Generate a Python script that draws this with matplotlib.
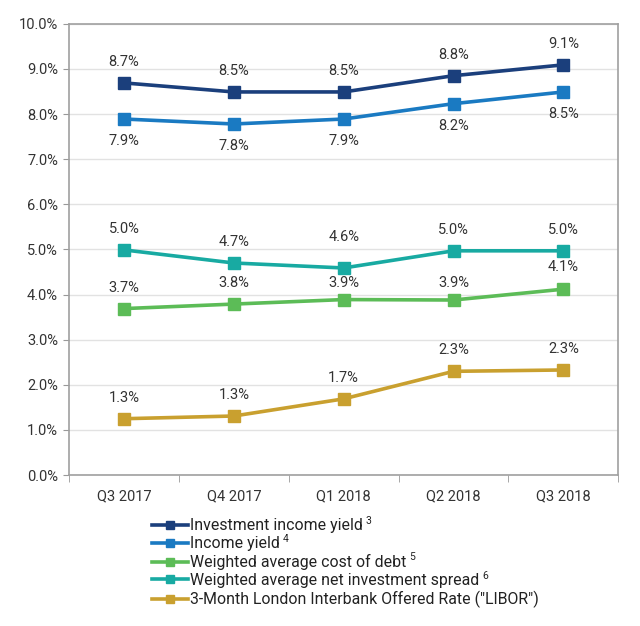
import matplotlib
matplotlib.use("Agg")
import matplotlib.pyplot as plt
from matplotlib.ticker import FuncFormatter, FixedLocator

plt.rcParams['font.family'] = ['Roboto', 'DejaVu Sans']

categories = ["Q3 2017", "Q4 2017", "Q1 2018", "Q2 2018", "Q3 2018"]
investment_income_yield = [8.69, 8.49, 8.49, 8.85, 9.09]
income_yield = [7.89, 7.78, 7.89, 8.23, 8.49]
net_investment_spread = [4.99, 4.70, 4.59, 4.97, 4.97]
cost_of_debt = [3.69, 3.79, 3.89, 3.88, 4.12]
libor = [1.25, 1.31, 1.69, 2.30, 2.33]

label_iiy = ["8.7%", "8.5%", "8.5%", "8.8%", "9.1%"]
label_iy = ["7.9%", "7.8%", "7.9%", "8.2%", "8.5%"]
label_spread = ["5.0%", "4.7%", "4.6%", "5.0%", "5.0%"]
label_debt = ["3.7%", "3.8%", "3.9%", "3.9%", "4.1%"]
label_libor = ["1.3%", "1.3%", "1.7%", "2.3%", "2.3%"]

# label offsets in points (positive = above)
off_iiy = [15, 15, 15, 15, 15]
off_iy = [-16, -16, -16, -16, -16]
off_spread = [15, 15, 22, 15, 15]
off_debt = [15, 15, 12, 12, 16]
off_libor = [15, 15, 15, 15, 15]

series = [
    ("Investment income yield", "3", investment_income_yield, label_iiy, "#1b3f7c", off_iiy),
    ("Income yield", "4", income_yield, label_iy, "#1a7ac2", off_iy),
    ("Weighted average cost of debt", "5", cost_of_debt, label_debt, "#5cbc57", off_debt),
    ("Weighted average net investment spread", "6", net_investment_spread, label_spread, "#18aaa2", off_spread),
    ("3-Month London Interbank Offered Rate (\"LIBOR\")", "", libor, label_libor, "#c9a02f", off_libor),
]

fig = plt.figure(figsize=(6.4, 6.26), dpi=100)
ax = fig.add_axes([0.108, 0.241, 0.858, 0.721])

x = list(range(len(categories)))
for name, sup, vals, labs, color, offs in series:
    ax.plot(x, vals, color=color, lw=2.6, marker='s', markersize=8.5,
            label=name, zorder=3)
    for xi, v, lab, o in zip(x, vals, labs, offs):
        ax.annotate(lab, (xi, v), xytext=(0, o), textcoords='offset points',
                    ha='center', va='center', fontsize=10.5, color='#333333')

ax.set_xlim(-0.5, 4.5)
ax.set_ylim(0, 10)
ax.set_yticks([i for i in range(11)])
ax.yaxis.set_major_formatter(FuncFormatter(lambda v, p: f"{v:.1f}%"))
ax.set_xticks(x)
ax.set_xticklabels(categories)
ax.xaxis.set_minor_locator(FixedLocator([-0.5, 0.5, 1.5, 2.5, 3.5, 4.5]))
ax.tick_params(axis='x', which='major', length=0, pad=10, labelsize=10.5, labelcolor='#333333')
ax.tick_params(axis='x', which='minor', length=5, color='#999999')
ax.tick_params(axis='y', length=4, color='#999999', labelsize=10.5, labelcolor='#333333', pad=4)
ax.grid(axis='y', color='#e2e2e2', lw=1)
ax.set_axisbelow(True)
for s in ['left', 'right', 'top', 'bottom']:
    ax.spines[s].set_color('#a0a0a0')
    ax.spines[s].set_linewidth(1.2)

leg = fig.legend(loc='upper left', bbox_to_anchor=(0.237, 0.172), bbox_transform=fig.transFigure,
                 frameon=False, fontsize=11.4, handlelength=2.3, handletextpad=0.1,
                 labelspacing=0.18, borderaxespad=0, borderpad=0)
for t in leg.get_texts():
    t.set_color('#222222')
for h in leg.legend_handles:
    h.set_markersize(6)

fig.canvas.draw()
renderer = fig.canvas.get_renderer()
inv = fig.transFigure.inverted()
for t, (name, sup, *_rest) in zip(leg.get_texts(), series):
    if not sup:
        continue
    bb = t.get_window_extent(renderer)
    fx, fy = inv.transform((bb.x1 + 3, bb.y1 + 2))
    fig.text(fx, fy, sup, fontsize=7.5, color='#222222', ha='left', va='top')

fig.savefig("out.png", dpi=100)
